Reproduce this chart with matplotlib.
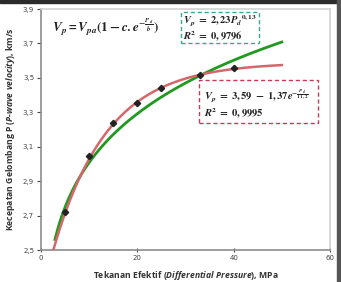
import numpy as np
import matplotlib
matplotlib.use("Agg")
import matplotlib.pyplot as plt
from matplotlib.patches import Rectangle

# data
pressure = [5, 10, 15, 20, 25, 33, 40]
velocity = [2.72, 3.045, 3.235, 3.355, 3.44, 3.515, 3.555]
# fit coefficients stated on the chart
exp_a, exp_b, exp_c = 3.59, 1.37, 11.2
pow_a, pow_b = 2.23, 0.13
fit_range_exp = (2.5, 50)
fit_range_pow = (2.9, 50)
xticks = [0, 20, 40, 60]
yticks = [2.5, 2.7, 2.9, 3.1, 3.3, 3.5, 3.7, 3.9]
ytick_labels = ["2,5", "2,7", "2,9", "3,1", "3,3", "3,5", "3,7", "3,9"]

plt.rcParams['mathtext.fontset'] = 'custom'
plt.rcParams['mathtext.rm'] = 'Open Sans:bold'
plt.rcParams['mathtext.it'] = 'Open Sans:italic:bold'
plt.rcParams['mathtext.bf'] = 'Open Sans:bold'

fig = plt.figure(figsize=(3.41, 2.82), dpi=100)
ax = fig.add_axes([41/341, 32/282, 289/341, 241/282])

xe = np.linspace(*fit_range_exp, 200)
xp = np.linspace(*fit_range_pow, 200)
ax.plot(xp, pow_a * xp**pow_b, color="#1f9a1f", lw=2.0, zorder=2)
ax.plot(xe, exp_a - exp_b*np.exp(-xe/exp_c), color="#d6666c", lw=1.8, zorder=3)
ax.plot(pressure, velocity, linestyle="none", marker="D", ms=3.2, color="#222222", zorder=4)

ax.set_xlim(0, 60)
ax.set_ylim(2.5, 3.9)
ax.set_xticks(xticks)
ax.set_xticklabels([str(t) for t in xticks])
ax.set_yticks(yticks)
ax.set_yticklabels(ytick_labels)
ax.tick_params(axis='both', labelsize=5, colors="#444444", length=3, width=0.8, pad=2)
ax.tick_params(axis='x', direction='inout')
for s in ['left', 'bottom']:
    ax.spines[s].set_color("#8c8c8c")
    ax.spines[s].set_linewidth(1.2)
for s in ['top', 'right']:
    ax.spines[s].set_color("#d2d2d2")
    ax.spines[s].set_linewidth(1.2)

ax.set_xlabel(r"Tekanan Efektif ($\mathit{Differential\ Pressure}$), MPa",
              fontsize=6.2, fontweight='bold', family='Open Sans', color="#333333", labelpad=6)
ax.set_ylabel(r"Kecepatan Gelombang P ($\mathit{P\text{-}wave\ velocity}$), km/s",
              fontsize=6.2, fontweight='bold', family='Open Sans', color="#333333", labelpad=4)

# equations
ax.text(2.2, 3.79, r"$\mathbfit{V_p = V_{pa}}\mathbf{(1 -}\mathbfit{c.e}^{-\frac{\mathbfit{P_d}}{\mathbfit{b}}}\mathbf{)}$",
        fontsize=9.5, math_fontfamily='stix', color="#222222", va='center')

ax.add_patch(Rectangle((0.484, 0.859), 0.270, 0.129, transform=ax.transAxes,
                       fill=False, ec="#3aa890", lw=1.0, ls=(0, (3, 2)), zorder=5))
ax.text(0.490, 0.952, r"$\mathbfit{V_p}\mathbf{\ =\ 2,23}\mathbfit{P_d}^{\mathbf{0,13}}$",
        transform=ax.transAxes, fontsize=7.6, math_fontfamily='stix', color="#222222", va='center')
ax.text(0.490, 0.886, r"$\mathbfit{R}^{\mathbf{2}}\mathbf{\ =\ 0,9796}$",
        transform=ax.transAxes, fontsize=7.6, math_fontfamily='stix', color="#222222", va='center')

ax.add_patch(Rectangle((0.547, 0.527), 0.411, 0.178, transform=ax.transAxes,
                       fill=False, ec="#c83a5c", lw=1.0, ls=(0, (3, 2)), zorder=5))
ax.text(0.565, 0.640, r"$\mathbfit{V_p}\mathbf{\ =\ 3,59\ -\ 1,37}\mathbfit{e}^{-\frac{\mathbfit{P_d}}{\mathbf{11,2}}}$",
        transform=ax.transAxes, fontsize=7.6, math_fontfamily='stix', color="#222222", va='center')
ax.text(0.565, 0.565, r"$\mathbfit{R}^{\mathbf{2}}\mathbf{\ =\ 0,9995}$",
        transform=ax.transAxes, fontsize=7.6, math_fontfamily='stix', color="#222222", va='center')

# frame bands
fig.patches.append(Rectangle((0, 1 - 3/282), 1, 3/282, transform=fig.transFigure,
                             color="#2b2b2b", zorder=0))
fig.patches.append(Rectangle((1 - 4/341, 0), 4/341, 1, transform=fig.transFigure,
                             color="#555555", zorder=0))

fig.savefig("out.png", dpi=100)
